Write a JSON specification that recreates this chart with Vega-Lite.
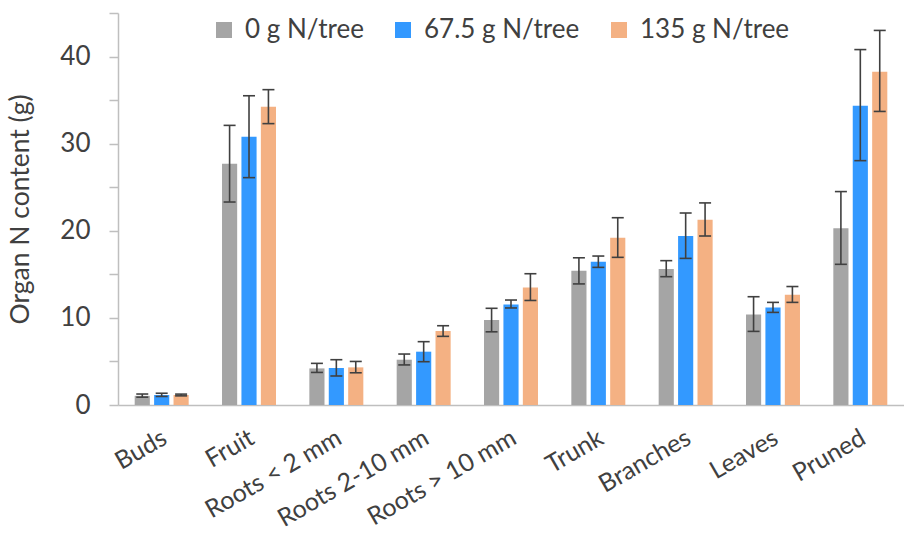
{
  "$schema": "https://vega.github.io/schema/vega-lite/v6.json",
  "width": 786,
  "height": 392,
  "autosize": {"type": "none"},
  "padding": {"left": 118, "top": 13, "right": 0, "bottom": 130},
  "config": {"font": "Lato", "view": {"stroke": null}},
  "data": {
    "values": [
      {"organ": "Buds", "treatment": "0 g N/tree", "value": 1.05, "lo": 0.9, "hi": 1.26},
      {"organ": "Buds", "treatment": "67.5 g N/tree", "value": 1.15, "lo": 0.98, "hi": 1.35},
      {"organ": "Buds", "treatment": "135 g N/tree", "value": 1.15, "lo": 1.05, "hi": 1.25},
      {"organ": "Fruit", "treatment": "0 g N/tree", "value": 27.7, "lo": 23.3, "hi": 32.1},
      {"organ": "Fruit", "treatment": "67.5 g N/tree", "value": 30.8, "lo": 26.1, "hi": 35.5},
      {"organ": "Fruit", "treatment": "135 g N/tree", "value": 34.25, "lo": 32.3, "hi": 36.2},
      {"organ": "Roots < 2 mm", "treatment": "0 g N/tree", "value": 4.2, "lo": 3.74, "hi": 4.78},
      {"organ": "Roots < 2 mm", "treatment": "67.5 g N/tree", "value": 4.25, "lo": 3.33, "hi": 5.2},
      {"organ": "Roots < 2 mm", "treatment": "135 g N/tree", "value": 4.32, "lo": 3.7, "hi": 5.0},
      {"organ": "Roots 2-10 mm", "treatment": "0 g N/tree", "value": 5.2, "lo": 4.6, "hi": 5.85},
      {"organ": "Roots 2-10 mm", "treatment": "67.5 g N/tree", "value": 6.12, "lo": 4.97, "hi": 7.27},
      {"organ": "Roots 2-10 mm", "treatment": "135 g N/tree", "value": 8.5, "lo": 7.88, "hi": 9.1},
      {"organ": "Roots > 10 mm", "treatment": "0 g N/tree", "value": 9.76, "lo": 8.4, "hi": 11.1},
      {"organ": "Roots > 10 mm", "treatment": "67.5 g N/tree", "value": 11.55, "lo": 11.14, "hi": 12.05},
      {"organ": "Roots > 10 mm", "treatment": "135 g N/tree", "value": 13.5, "lo": 12.0, "hi": 15.07},
      {"organ": "Trunk", "treatment": "0 g N/tree", "value": 15.4, "lo": 13.9, "hi": 16.9},
      {"organ": "Trunk", "treatment": "67.5 g N/tree", "value": 16.45, "lo": 15.8, "hi": 17.1},
      {"organ": "Trunk", "treatment": "135 g N/tree", "value": 19.2, "lo": 16.95, "hi": 21.5},
      {"organ": "Branches", "treatment": "0 g N/tree", "value": 15.6, "lo": 14.73, "hi": 16.57},
      {"organ": "Branches", "treatment": "67.5 g N/tree", "value": 19.4, "lo": 16.83, "hi": 22.04},
      {"organ": "Branches", "treatment": "135 g N/tree", "value": 21.27, "lo": 19.4, "hi": 23.2},
      {"organ": "Leaves", "treatment": "0 g N/tree", "value": 10.4, "lo": 8.45, "hi": 12.43},
      {"organ": "Leaves", "treatment": "67.5 g N/tree", "value": 11.2, "lo": 10.63, "hi": 11.78},
      {"organ": "Leaves", "treatment": "135 g N/tree", "value": 12.66, "lo": 11.78, "hi": 13.6},
      {"organ": "Pruned", "treatment": "0 g N/tree", "value": 20.28, "lo": 16.15, "hi": 24.5},
      {"organ": "Pruned", "treatment": "67.5 g N/tree", "value": 34.36, "lo": 28.05, "hi": 40.8},
      {"organ": "Pruned", "treatment": "135 g N/tree", "value": 38.27, "lo": 33.7, "hi": 43.0}
    ]
  },
  "encoding": {
    "x": {
      "field": "organ",
      "type": "nominal",
      "sort": ["Buds", "Fruit", "Roots < 2 mm", "Roots 2-10 mm", "Roots > 10 mm", "Trunk", "Branches", "Leaves", "Pruned"],
      "scale": {"paddingInner": 0.333, "paddingOuter": 0.1667},
      "axis": {
        "title": null,
        "labelAngle": -30,
        "labelAlign": "right",
        "labelBaseline": "top",
        "labelFontSize": 25,
        "labelLimit": 400,
        "labelColor": "#404040",
        "labelOffset": -3,
        "ticks": false,
        "domainColor": "#bfbfbf",
        "domainWidth": 1.5,
        "labelPadding": 20
      }
    },
    "xOffset": {
      "field": "treatment",
      "type": "nominal",
      "sort": ["0 g N/tree", "67.5 g N/tree", "135 g N/tree"],
      "scale": {"paddingInner": 0.22, "paddingOuter": 0.11}
    }
  },
  "layer": [
    {
      "mark": {"type": "bar"},
      "encoding": {
        "y": {
          "field": "value",
          "type": "quantitative",
          "scale": {"domain": [0, 45]},
          "title": "Organ N content (g)",
          "axis": {
            "values": [0, 5, 10, 15, 20, 25, 30, 35, 40, 45],
            "labelExpr": "datum.value % 10 === 0 ? datum.label : ''",
            "grid": false,
            "domainColor": "#bfbfbf",
            "domainWidth": 1.5,
            "tickColor": "#bfbfbf",
            "tickWidth": 1.5,
            "tickSize": 9,
            "labelFontSize": 26,
            "labelColor": "#404040",
            "labelPadding": 19,
            "titleFontSize": 26.5,
            "titleFontWeight": "normal",
            "titleColor": "#404040",
            "titlePadding": 25
          }
        },
        "color": {
          "field": "treatment",
          "type": "nominal",
          "scale": {
            "domain": ["0 g N/tree", "67.5 g N/tree", "135 g N/tree"],
            "range": ["#a5a5a5", "#3399ff", "#f4b183"]
          },
          "legend": {
            "orient": "none",
            "legendX": 93,
            "legendY": 4,
            "direction": "horizontal",
            "title": null,
            "symbolType": "square",
            "symbolSize": 256,
            "symbolStrokeWidth": 0,
            "symbolOpacity": 1,
            "labelFontSize": 26,
            "labelColor": "#404040",
            "columnPadding": 26,
            "labelOffset": 8,
            "padding": 0
          }
        }
      }
    },
    {
      "mark": {"type": "rule", "color": "#404040", "strokeWidth": 1.6},
      "encoding": {
        "y": {"field": "lo", "type": "quantitative", "title": "Organ N content (g)"},
        "y2": {"field": "hi"}
      }
    },
    {
      "mark": {"type": "tick", "color": "#404040", "thickness": 1.6, "size": 12, "opacity": 1},
      "encoding": {
        "y": {"field": "lo", "type": "quantitative", "title": "Organ N content (g)"}
      }
    },
    {
      "mark": {"type": "tick", "color": "#404040", "thickness": 1.6, "size": 12, "opacity": 1},
      "encoding": {
        "y": {"field": "hi", "type": "quantitative", "title": "Organ N content (g)"}
      }
    }
  ]
}
